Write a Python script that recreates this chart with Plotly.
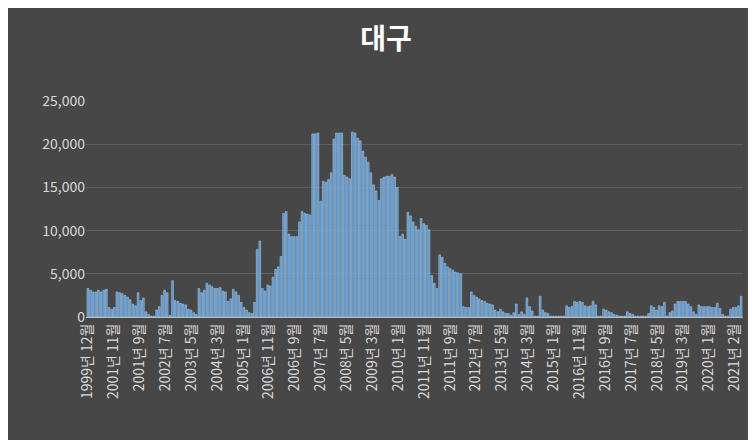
import plotly.graph_objects as go

# monthly values
values = [
    3300, 3100, 2900, 2900, 3100, 2900, 3100, 3200,
    1100, 900, 1100,
    2900, 2800, 2700, 2500, 2300, 2000, 1500, 1300,
    2800, 1900, 2200, 600, 300, 100, 100,
    800, 1200, 2500, 3100, 2800, 200,
    4200, 1900, 1800, 1600, 1500, 1400, 900, 800, 500, 300,
    3300, 2800, 3100, 3900, 3700, 3500, 3300, 3300, 3400, 3000,
    2900, 1800, 2100, 3200, 2900, 2500, 1700, 1100, 800, 500, 400,
    1700, 7800, 8800, 3300, 3000, 3700, 3600, 4600, 5500, 5800, 7000,
    12000, 12200, 9600, 9300, 9300, 9300, 11000, 12200, 12000, 11900, 11800,
    21200, 21200, 21300, 13400, 15700, 15600, 15900, 16700, 20600, 21300,
    21300, 21300, 16400, 16200, 16000, 21400, 21300, 20700, 20400, 19200,
    18500, 17900, 16700, 15300, 14600, 13500, 16000, 16200, 16300, 16300,
    16500, 16200, 15000, 9300, 9600, 9000, 12100, 11700, 11000, 10500,
    10100, 11400, 10800, 10600, 10100, 4800, 3900, 3300, 7200, 6900,
    6200, 5800, 5600, 5400, 5200, 5100, 5000, 1200, 1100, 1100,
    2900, 2500, 2300, 2100, 1900, 1800, 1600, 1500, 1400, 800,
    600, 900, 600, 400, 400, 200, 500, 1500, 300, 600,
    300, 2200, 1200, 700, 100, 100, 2400, 800, 500, 400,
    100, 100, 100, 100, 100, 100, 1300, 1100, 1200, 1800,
    1700, 1800, 1700, 1300, 1200, 1300, 1800, 1400, 100, 100,
    900, 800, 600, 500, 300, 200, 100, 100, 100, 600,
    400, 300, 100, 100, 100, 100, 100, 400, 1300, 1100,
    800, 1300, 1200, 1700, 100, 500, 700, 1500, 1800, 1800,
    1800, 1800, 1500, 1200, 600, 300, 1400, 1200, 1200, 1200,
    1200, 1100, 1100, 1600, 1000, 300, 100, 100, 900, 1100,
    1100, 1300, 2400,
]

tick_labels = [
    "1999년 12월", "2001년 11월", "2001년 9월", "2002년 7월", "2003년 5월",
    "2004년 3월", "2005년 1월", "2006년 11월", "2006년 9월", "2007년 7월",
    "2008년 5월", "2009년 3월", "2010년 1월", "2011년 11월", "2011년 9월",
    "2012년 7월", "2013년 5월", "2014년 3월", "2015년 1월", "2016년 11월",
    "2016년 9월", "2017년 7월", "2018년 5월", "2019년 3월", "2020년 1월",
    "2021년 2월",
]

x = list(range(len(values)))
n_ticks = len(tick_labels)
step = 0.99 * (len(values) - 1) / (n_ticks - 1)
tick_vals = [i * step for i in range(n_ticks)]

fig = go.Figure(go.Bar(
    x=x, y=values,
    marker=dict(color='#4f8fcc', line=dict(color='#a9cbea', width=0.6)),
))

fig.update_layout(
    width=756, height=440,
    paper_bgcolor='#474747', plot_bgcolor='rgba(0,0,0,0)',
    margin=dict(l=78, r=21, t=93, b=131),
    bargap=0.35,
    showlegend=False,
    font=dict(family='Noto Sans CJK KR', color='#d9d9d9', size=13),
    title=dict(text='<b>대구</b>', x=0.5, y=0.93, xanchor='center', yanchor='middle',
               font=dict(size=28, color='white')),
)
fig.update_xaxes(
    tickmode='array', tickvals=tick_vals, ticktext=tick_labels,
    tickangle=-90, range=[-0.7, len(values) - 0.3],
    showgrid=False, showline=True, linecolor='#bfbfbf', ticks='',
    tickfont=dict(size=14),
)
fig.update_yaxes(
    range=[0, 25000], dtick=5000, tickformat=',',
    gridcolor='#5f5f5f', zeroline=False, tickfont=dict(size=14),
)

fig.write_html("out.html")
